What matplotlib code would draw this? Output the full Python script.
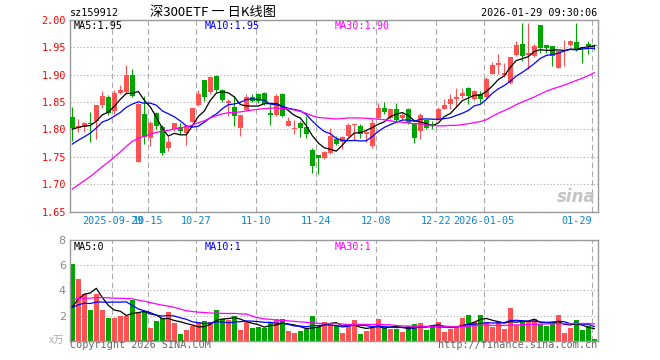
import numpy as np
import pandas as pd
import matplotlib
matplotlib.use("Agg")
import matplotlib.pyplot as plt
from matplotlib.transforms import blended_transform_factory

plt.rcParams['font.family'] = ['DejaVu Sans Mono', 'Noto Sans CJK SC']

# ---- data --------------------------------------------------------------
holidays = ['2025-10-01', '2025-10-02', '2025-10-03', '2025-10-06',
            '2025-10-07', '2025-10-08', '2026-01-01', '2026-01-02']
days = pd.bdate_range('2025-09-18', '2026-01-29')
days = days[~days.isin(pd.to_datetime(holidays))]

opens = [1.823, 1.803, 1.805, 1.812, 1.815, 1.844, 1.860, 1.834, 1.866, 1.868,
         1.900, 1.741, 1.829, 1.784, 1.830, 1.805, 1.767, 1.800, 1.804, 1.794,
         1.813, 1.844, 1.890, 1.868, 1.897, 1.873, 1.848, 1.841, 1.803, 1.835,
         1.860, 1.864, 1.866, 1.830, 1.827, 1.864, 1.807, 1.800, 1.811, 1.805,
         1.762, 1.754, 1.748, 1.757, 1.782, 1.777, 1.788, 1.808, 1.807, 1.791,
         1.770, 1.821, 1.840, 1.821, 1.838, 1.821, 1.837, 1.812, 1.797, 1.818,
         1.810, 1.820, 1.838, 1.846, 1.855, 1.861, 1.875, 1.855, 1.865, 1.860,
         1.902, 1.917, 1.900, 1.885, 1.936, 1.957, 1.936, 1.934, 1.990, 1.955,
         1.953, 1.913, 1.944, 1.954, 1.960, 1.951, 1.956, 1.954]
highs = [1.841, 1.820, 1.813, 1.832, 1.845, 1.870, 1.863, 1.872, 1.882, 1.917,
         1.910, 1.849, 1.862, 1.815, 1.832, 1.809, 1.788, 1.812, 1.812, 1.809,
         1.840, 1.872, 1.891, 1.897, 1.899, 1.874, 1.855, 1.862, 1.827, 1.864,
         1.864, 1.866, 1.868, 1.846, 1.865, 1.866, 1.822, 1.818, 1.815, 1.824,
         1.766, 1.754, 1.760, 1.803, 1.788, 1.789, 1.811, 1.810, 1.810, 1.800,
         1.820, 1.849, 1.850, 1.840, 1.849, 1.830, 1.840, 1.812, 1.830, 1.820,
         1.815, 1.841, 1.855, 1.864, 1.876, 1.876, 1.877, 1.873, 1.871, 1.896,
         1.924, 1.937, 1.922, 1.933, 1.962, 1.995, 1.995, 1.957, 1.990, 1.955,
         1.953, 1.943, 1.963, 1.963, 1.995, 1.951, 1.962, 1.956]
lows = [1.779, 1.795, 1.795, 1.777, 1.782, 1.840, 1.826, 1.829, 1.864, 1.865,
        1.859, 1.740, 1.773, 1.770, 1.800, 1.754, 1.760, 1.797, 1.791, 1.771,
        1.813, 1.843, 1.852, 1.865, 1.869, 1.850, 1.825, 1.807, 1.788, 1.833,
        1.850, 1.848, 1.844, 1.809, 1.825, 1.822, 1.806, 1.791, 1.787, 1.785,
        1.720, 1.718, 1.746, 1.755, 1.771, 1.765, 1.787, 1.779, 1.785, 1.778,
        1.767, 1.819, 1.828, 1.820, 1.815, 1.819, 1.810, 1.776, 1.782, 1.801,
        1.800, 1.818, 1.837, 1.837, 1.841, 1.858, 1.846, 1.854, 1.849, 1.858,
        1.901, 1.901, 1.896, 1.884, 1.934, 1.925, 1.910, 1.933, 1.940, 1.940,
        1.916, 1.912, 1.916, 1.952, 1.943, 1.922, 1.938, 1.946]
closes = [1.803, 1.806, 1.812, 1.810, 1.844, 1.862, 1.830, 1.866, 1.873, 1.899,
          1.862, 1.847, 1.786, 1.812, 1.807, 1.757, 1.778, 1.811, 1.798, 1.807,
          1.839, 1.864, 1.860, 1.896, 1.873, 1.853, 1.852, 1.824, 1.826, 1.860,
          1.852, 1.852, 1.846, 1.827, 1.861, 1.824, 1.815, 1.803, 1.802, 1.791,
          1.733, 1.748, 1.759, 1.788, 1.774, 1.787, 1.809, 1.810, 1.791, 1.795,
          1.812, 1.840, 1.832, 1.838, 1.818, 1.827, 1.812, 1.785, 1.827, 1.803,
          1.806, 1.838, 1.844, 1.855, 1.860, 1.866, 1.862, 1.870, 1.855, 1.893,
          1.917, 1.921, 1.904, 1.933, 1.955, 1.934, 1.939, 1.952, 1.949, 1.949,
          1.934, 1.943, 1.946, 1.962, 1.946, 1.949, 1.953, 1.952]
volumes = [6.09, 4.93, 3.68, 2.44, 3.68, 2.44, 1.80, 1.80, 1.99, 1.99,
           3.23, 2.17, 2.25, 1.00, 1.56, 1.77, 2.25, 1.43, 0.53, 0.85,
           1.19, 1.46, 1.56, 1.46, 2.41, 1.72, 1.64, 1.96, 0.85, 1.46,
           1.00, 1.09, 1.00, 1.46, 1.70, 1.70, 0.77, 0.64, 0.77, 0.93,
           1.96, 1.11, 1.48, 1.38, 1.25, 0.64, 1.30, 1.64, 0.53, 0.77,
           0.98, 1.72, 1.03, 0.93, 0.93, 0.69, 1.17, 1.32, 1.40, 0.85,
           1.25, 1.48, 0.69, 0.93, 1.09, 1.80, 2.04, 1.48, 2.04, 1.48,
           1.09, 1.48, 0.93, 2.60, 1.25, 1.46, 1.56, 1.70, 1.30, 1.17,
           1.38, 2.04, 0.64, 1.03, 1.62, 0.85, 1.17, 0.13]

# sessions before the window, estimated from where the MA lines start
pre_closes = [1.575, 1.582, 1.578, 1.585, 1.580, 1.586, 1.592, 1.590, 1.588, 1.594,
              1.672, 1.690, 1.695, 1.700, 1.693, 1.728, 1.745, 1.740, 1.738, 1.749,
              1.735, 1.750, 1.742, 1.752, 1.751, 1.790, 1.800, 1.805, 1.805]
pre_volumes = [2.2, 2.6, 2.3, 2.5, 2.1, 2.7, 2.4, 2.3, 2.5,
               4.2, 5.1, 4.8, 4.3, 4.9, 4.5, 4.7, 4.4, 4.6, 4.5,
               3.4, 2.9, 2.4, 2.7, 2.5, 2.5, 1.9, 1.7, 2.0, 1.8]

tick_dates = ['2025-09-29', '2025-10-15', '2025-10-27', '2025-11-10', '2025-11-24',
              '2025-12-08', '2025-12-22', '2026-01-05', '2026-01-29']
tick_text = ['2025-09-29', '10-15', '10-27', '11-10', '11-24',
             '12-08', '12-22', '2026-01-05', '01-29']
price_ticks = [1.65, 1.70, 1.75, 1.80, 1.85, 1.90, 1.95, 2.00]
vol_ticks = [2, 4, 6, 8]

# ---- styling -------------------------------------------------------------
RED = '#ff5252'
GREEN = '#00a600'
GRID = '#aaaaaa'
FRAME = '#999999'
W, H = 660, 360


def px(x, y):
    return x / W, 1 - y / H


def ma(values, pre, n):
    s = pd.Series(list(pre) + list(values)).rolling(n).mean().values
    return s[len(pre):]


o = np.array(opens)
h = np.array(highs)
l = np.array(lows)
c = np.array(closes)
v = np.array(volumes)
x = np.arange(len(c))
cols = np.where(c >= o, RED, GREEN)
grid_x = [days.get_loc(pd.Timestamp(d)) - 0.33 for d in tick_dates]

fig = plt.figure(figsize=(6.6, 3.6), dpi=100)
ax = fig.add_axes([70 / W, 1 - 211.6 / H, 527.7 / W, 191.6 / H])
axv = fig.add_axes([70 / W, 1 - 340.7 / H, 527.7 / W, 100.7 / H])

for a in (ax, axv):
    a.set_xlim(-0.383, len(c) - 0.43)
    for s in a.spines.values():
        s.set_color(FRAME)
        s.set_linewidth(1.0)
    for gx in grid_x:
        a.axvline(gx, color=GRID, lw=0.8, ls=(0, (5, 3)), zorder=0)
    a.grid(axis='y', color=GRID, lw=0.8, ls=(0, (1, 2)), zorder=0)
    a.tick_params(length=0)

# price panel
ax.vlines(x, l, h, colors=cols, lw=0.8, zorder=2)
ax.bar(x, np.maximum(np.abs(c - o), 0.0012), bottom=np.minimum(o, c),
       width=0.78, color=cols, zorder=3)
ax.plot(x, ma(c, pre_closes, 5), color='black', lw=0.9, zorder=4)
ax.plot(x, ma(c, pre_closes, 10), color='#0000ff', lw=0.9, zorder=4)
ax.plot(x, ma(c, pre_closes, 30), color='#ff00ff', lw=0.9, zorder=4)
ax.set_ylim(1.65, 2.00)
ax.set_yticks(price_ticks)
ax.set_yticklabels(['%.2f' % t for t in price_ticks], color='red', fontsize=7.3)
ax.tick_params(axis='y', pad=3)
ax.set_xticks(grid_x)
ax.set_xticklabels(tick_text, color='#0a84d0', fontsize=7.3)
ax.tick_params(axis='x', pad=3.5)
ax.get_xticklabels()[-1].set_ha('right')
ax.get_xticklabels()[-1].set_x(grid_x[-1])

# volume panel
axv.bar(x, v, width=0.78, color=cols, zorder=2)
axv.plot(x, ma(v, pre_volumes, 5), color='black', lw=0.9, zorder=4)
axv.plot(x, ma(v, pre_volumes, 10), color='#0000ff', lw=0.9, zorder=4)
axv.plot(x, ma(v, pre_volumes, 30), color='#ff00ff', lw=0.9, zorder=4)
axv.set_ylim(0, 8)
axv.set_yticks(vol_ticks)
axv.set_yticklabels([str(t) for t in vol_ticks], color='#888888', fontsize=8,
                    family='DejaVu Sans')
axv.tick_params(axis='y', pad=3)
axv.set_xticks([])

# header and captions
fig.text(*px(70, 13), 'sz159912', fontsize=7.3, va='center', ha='left')
fig.text(*px(150, 12.5), '深300ETF 一 日K线图', fontsize=9.5, va='center',
         ha='left', family=['Noto Sans CJK SC', 'DejaVu Sans'])
fig.text(*px(597, 13), '2026-01-29 09:30:06', fontsize=7.3, va='center', ha='right')
fig.text(*px(74, 26), 'MA5:1.95', fontsize=7.3, va='center', color='black')
fig.text(*px(205, 26), 'MA10:1.95', fontsize=7.3, va='center', color='#0000ff')
fig.text(*px(335, 26), 'MA30:1.90', fontsize=7.3, va='center', color='#ff00ff')
fig.text(*px(74, 246.5), 'MA5:0', fontsize=7.3, va='center', color='black')
fig.text(*px(205, 246.5), 'MA10:1', fontsize=7.3, va='center', color='#0000ff')
fig.text(*px(335, 246.5), 'MA30:1', fontsize=7.3, va='center', color='#ff00ff')
fig.text(*px(64, 341), 'x万', fontsize=7.5, va='center', ha='right', color='#aaaaaa',
         family=['Noto Sans CJK SC', 'DejaVu Sans'])
fig.text(*px(70, 345.5), 'Copyright 2026 SINA.COM', fontsize=7.3, va='center',
         ha='left', color='#666666')
fig.text(*px(597, 345.5), 'http://finance.sina.com.cn', fontsize=7.3, va='center',
         ha='right', color='#666666')
fig.text(*px(596, 197), 'sina', fontsize=12, va='center', ha='right',
         color='#c4c4c4', style='italic', weight='bold', family='DejaVu Sans')

fig.savefig('out.png', dpi=100)
